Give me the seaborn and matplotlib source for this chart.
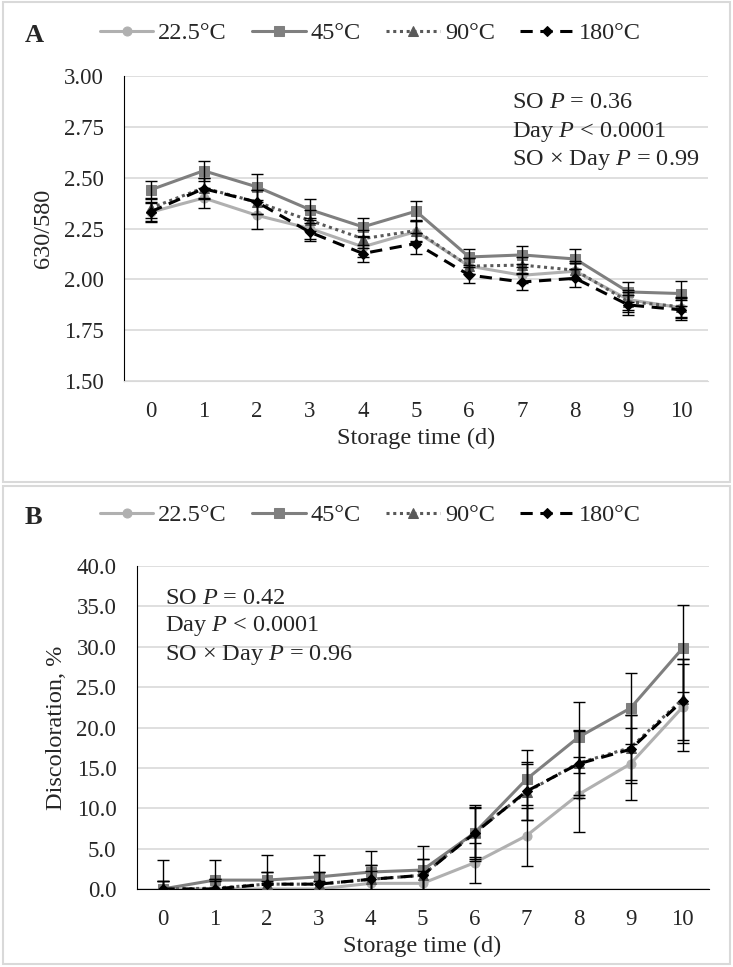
import matplotlib
matplotlib.use('Agg')
import matplotlib.pyplot as plt
import seaborn as sns
import pandas as pd
from matplotlib.patches import Rectangle
from matplotlib.ticker import FormatStrFormatter

# Data
days = list(range(11))
labels = ['22.5°C', '45°C', '90°C', '180°C']

# Panel A: 630/580 ratio
a_225 = [2.33, 2.40, 2.315, 2.25, 2.16, 2.235, 2.065, 2.02, 2.04, 1.90, 1.86]
a_45 = [2.44, 2.534, 2.455, 2.343, 2.258, 2.335, 2.11, 2.12, 2.10, 1.938, 1.93]
a_90 = [2.35, 2.45, 2.38, 2.29, 2.20, 2.24, 2.065, 2.07, 2.045, 1.89, 1.865]
a_180 = [2.332, 2.446, 2.38, 2.232, 2.127, 2.176, 2.021, 1.987, 2.005, 1.874, 1.85]
a_err_225 = [0.05, 0.05, 0.065, 0.05, 0.05, 0.05, 0.04, 0.04, 0.04, 0.05, 0.05]
a_err_45 = [0.045, 0.05, 0.065, 0.05, 0.045, 0.05, 0.04, 0.045, 0.05, 0.05, 0.06]
a_err_90 = [0.05, 0.05, 0.06, 0.05, 0.045, 0.05, 0.04, 0.04, 0.045, 0.05, 0.05]
a_err_180 = [0.045, 0.05, 0.06, 0.045, 0.044, 0.05, 0.04, 0.04, 0.045, 0.05, 0.05]

# Panel B: discoloration, %
b_225 = [0.0, 0.0, 0.0, 0.0, 0.7, 0.7, 3.25, 6.6, 11.7, 15.5, 22.5]
b_45 = [0.0, 1.1, 1.1, 1.5, 2.1, 2.35, 6.95, 13.6, 18.8, 22.4, 29.8]
b_90 = [0.0, 0.1, 0.6, 0.6, 1.2, 1.7, 7.0, 12.0, 15.6, 17.5, 23.5]
b_180 = [0.0, 0.0, 0.6, 0.6, 1.2, 1.7, 6.9, 12.1, 15.5, 17.3, 23.3]
b_err_225 = [1.0, 1.0, 1.0, 1.0, 1.5, 1.5, 2.45, 3.8, 4.6, 4.5, 5.4]
b_err_45 = [3.6, 2.5, 3.1, 2.7, 2.6, 2.95, 3.5, 3.6, 4.4, 4.4, 5.4]
b_err_90 = [1.0, 1.2, 1.5, 1.5, 1.8, 2.0, 3.0, 3.5, 4.0, 4.0, 5.0]
b_err_180 = [1.0, 1.2, 1.5, 1.5, 1.8, 2.0, 3.2, 3.6, 4.2, 4.2, 5.2]

sns.set_style('white')
plt.rcParams['font.family'] = ['Liberation Serif', 'DejaVu Serif']
plt.rcParams['mathtext.fontset'] = 'custom'
plt.rcParams['mathtext.rm'] = 'Liberation Serif'
plt.rcParams['mathtext.it'] = 'Liberation Serif:italic'

colors = ['#b0b0b0', '#7f7f7f', '#595959', '#000000']
markers = ['o', 's', '^', 'D']
styles = ['-', '-', (0, (1, 1.2)), (0, (4, 2.5))]
msizes = [6.5, 7, 6.5, 5.5]

W, H = 733, 967
fig = plt.figure(figsize=(W / 100, H / 100), dpi=100)

# light grey frames around the two panels
for y0, y1 in [(2, 482), (486, 964)]:
    fig.patches.append(Rectangle((3 / W, 1 - y1 / H), 727 / W, (y1 - y0) / H,
                                 transform=fig.transFigure, fill=False,
                                 edgecolor='#d9d9d9', lw=1.5))

ax_a = fig.add_axes([124 / W, 1 - 381 / H, 584 / W, 305 / H])
ax_b = fig.add_axes([136.5 / W, 1 - 889 / H, 572 / W, 323 / H])

panels = [
    (ax_a, [a_225, a_45, a_90, a_180], [a_err_225, a_err_45, a_err_90, a_err_180], 33),
    (ax_b, [b_225, b_45, b_90, b_180], [b_err_225, b_err_45, b_err_90, b_err_180], 515),
]

for ax, series, errs, leg_y in panels:
    for i, (vals, err) in enumerate(zip(series, errs)):
        df = pd.DataFrame({'day': days, 'value': vals})
        sns.lineplot(data=df, x='day', y='value', ax=ax, color=colors[i],
                     marker=markers[i], markersize=msizes[i], markeredgecolor=colors[i],
                     linestyle=styles[i], lw=2.2, label=labels[i], zorder=2 + i)
        ax.errorbar(days, vals, yerr=err, fmt='none', ecolor='black',
                    elinewidth=1, capsize=4.5, capthick=1, zorder=10)
    ax.set_xlim(-0.5, 10.5)
    ax.set_xticks(days)
    ax.grid(axis='y', color='#d9d9d9', lw=1.2)
    ax.set_axisbelow(True)
    for s in ['top', 'right']:
        ax.spines[s].set_visible(False)
    ax.spines['left'].set_color('black')
    ax.tick_params(length=0, labelsize=16.5, pad=14.5)
    ax.set_xlabel('Storage time (d)', fontsize=17.5, labelpad=4)
    handles, lbls = ax.get_legend_handles_labels()
    ax.get_legend().remove()
    fig.legend(handles, lbls, loc='center left', bbox_to_anchor=(100 / W, 1 - leg_y / H),
               ncol=4, frameon=False, fontsize=17.5, handlelength=2.2,
               handletextpad=0.2, columnspacing=1.05, borderpad=0, borderaxespad=0)

ax_a.set_ylim(1.5, 3.0)
ax_a.set_yticks([1.5, 1.75, 2.0, 2.25, 2.5, 2.75, 3.0])
ax_a.yaxis.set_major_formatter(FormatStrFormatter('%.2f'))
ax_a.spines['bottom'].set_color('#d9d9d9')
ax_a.set_ylabel('630/580', fontsize=17.5, labelpad=7)

ax_b.set_ylim(0, 40)
ax_b.set_yticks(range(0, 41, 5))
ax_b.yaxis.set_major_formatter(FormatStrFormatter('%.1f'))
ax_b.spines['bottom'].set_color('black')
ax_b.set_ylabel('Discoloration, %', fontsize=17.5, labelpad=7)

# statistics text
for x0, y0, txt in [(512, 103, ['SO $P$ = 0.36', 'Day $P$ < 0.0001', 'SO × Day $P$ = 0.99']),
                    (165, 598, ['SO $P$ = 0.42', 'Day $P$ < 0.0001', 'SO × Day $P$ = 0.96'])]:
    for k, line in enumerate(txt):
        fig.text(x0 / W, 1 - (y0 + 28.5 * k) / H, line, fontsize=17.5, va='center', ha='left')

fig.text(25 / W, 1 - 35 / H, 'A', fontsize=19, fontweight='bold', va='center')
fig.text(25 / W, 1 - 518 / H, 'B', fontsize=19, fontweight='bold', va='center')

fig.savefig('out.png', dpi=100)
